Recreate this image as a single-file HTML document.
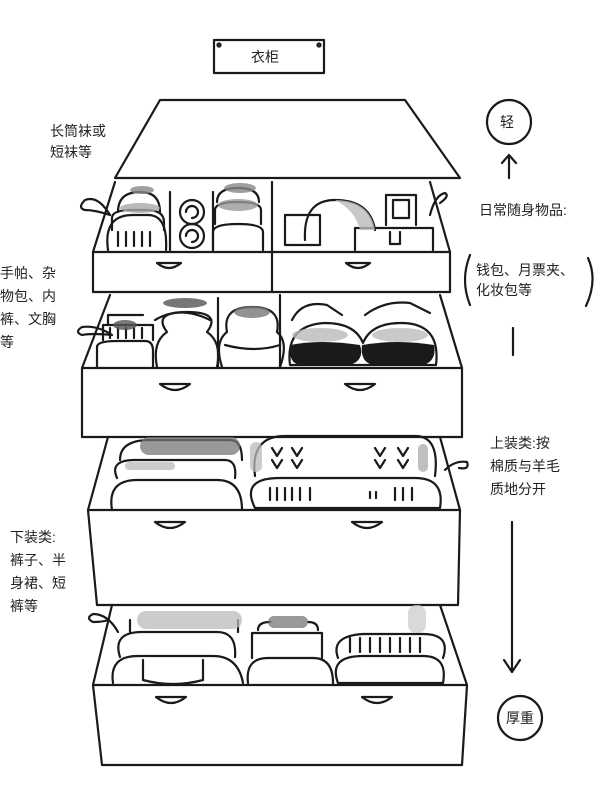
<!DOCTYPE html>
<html><head><meta charset="utf-8"><style>
html,body{margin:0;padding:0;background:#fff;}
svg{display:block;}
text{font-family:"Liberation Sans","Noto Sans CJK SC",sans-serif;fill:#222;font-size:14px;}
</style></head><body>
<svg width="600" height="788" viewBox="0 0 600 788" xmlns="http://www.w3.org/2000/svg">
<g fill="none" stroke="#1a1a1a" stroke-width="2.2" stroke-linejoin="round" stroke-linecap="round">
<!-- title -->
<rect x="214" y="40" width="110" height="33"/>
<circle cx="219" cy="45" r="1.5"/><circle cx="319" cy="45" r="1.5"/>
<!-- lid -->
<path d="M160 100 L405 100 L460 178 L115 178 Z"/>
<!-- drawer1 -->
<path d="M115 182 L93 252 L93 292 L450 292 L450 252 L430 182"/>
<path d="M93 252 L450 252 M272 182 L272 292"/>
<path d="M157 263 q12 10 24 0 Z M346 263 q12 10 24 0 Z"/>
<!-- d1 contents -->
<path d="M108 250 q-5 -35 25 -35 h15 q20 0 18 35"/>
<path d="M112 230 v-12 q0 -8 20 -8 h14 q18 0 18 12 v8"/>
<path d="M118 212 q0 -20 22 -20 q20 0 20 20"/>
<path d="M118 232 v14 M126 232 v14 M134 232 v14 M142 232 v14 M150 232 v14"/>
<path d="M170 250 V192 M213 250 V192"/>
<circle cx="192" cy="212" r="12"/><circle cx="192" cy="236" r="12"/>
<path d="M186 212 a6 6 0 1 1 6 6 M186 236 a6 6 0 1 1 6 6"/>
<path d="M213 250 v-18 q0 -8 25 -8 q25 0 25 8 v18 M215 224 v-14 q0 -8 23 -8 q23 0 23 8 v14 M217 202 q0 -14 21 -14 q21 0 21 14"/>
<path d="M285 245 V215 h35 v30 Z"/>
<path d="M305 240 q-2 -40 30 -40 q35 0 40 30"/>
<path d="M386 225 v-30 h30 v30 M393 200 v18 h16 v-18 Z"/>
<path d="M355 250 v-22 h78 v22 M390 232 v12 h10 v-12"/>
<!-- drawer2 -->
<path d="M110 295 L82 368 L82 437 L462 437 L462 368 L440 295"/>
<path d="M82 368 L462 368 M280 295 L280 368"/>
<path d="M160 384 q15 12 30 0 Z M345 384 q15 12 30 0 Z"/>
<path d="M97 367 v-20 q0 -6 20 -6 h28 q8 0 8 10 v16 M103 340 v-15 h50 v15 M108 325 v-10 h35"/>
<path d="M110 328 v10 M118 328 v10 M126 328 v10 M134 328 v10 M142 328 v10"/>
<path d="M157 367 q-5 -25 10 -35 q-15 -20 20 -20 q35 0 20 20 q15 10 10 35"/>
<path d="M155 320 q25 -15 55 0 M218 367 V298"/>
<path d="M222 367 q-8 -25 5 -35 q-5 -25 25 -25 q30 0 25 25 q12 10 3 35 M225 345 q30 8 55 0"/>
<path d="M290 365 q-5 -40 35 -42 q30 0 38 20 q8 -20 38 -20 q40 0 35 42 Z"/>
<path d="M292 320 q10 -20 35 -15 l15 10 M365 315 q20 -15 45 -12 l20 10"/>
</g>
<g fill="#1a1a1a">
<path d="M290 345 q30 -6 70 0 q5 15 -10 20 h-50 q-12 -2 -10 -20Z"/>
<path d="M362 345 q35 -6 72 0 q3 15 -10 20 h-50 q-14 -2 -12 -20Z"/>
</g>
<g fill="#888" opacity="0.8">
<ellipse cx="142" cy="190" rx="12" ry="4"/><ellipse cx="240" cy="188" rx="16" ry="5"/>
<ellipse cx="140" cy="208" rx="20" ry="5" fill="#aaa"/><ellipse cx="238" cy="205" rx="20" ry="6" fill="#999"/>
<path d="M335 200 q35 0 40 30 h-15 q-5 -20 -25 -30Z" fill="#bbb"/>
<ellipse cx="125" cy="325" rx="12" ry="5" fill="#555"/><ellipse cx="185" cy="303" rx="22" ry="5" fill="#555"/>
<ellipse cx="252" cy="312" rx="18" ry="6" fill="#777"/>
<ellipse cx="320" cy="335" rx="28" ry="7" fill="#bbb"/><ellipse cx="400" cy="335" rx="28" ry="7" fill="#bbb"/>
</g>
<g fill="none" stroke="#1a1a1a" stroke-width="2.2" stroke-linejoin="round" stroke-linecap="round">
<!-- drawer3 -->
<path d="M108 437 L88 510 L97 605 L458 605 L460 510 L440 437"/>
<path d="M88 510 L460 510"/>
<path d="M155 522 q15 12 30 0 Z M352 522 q15 12 30 0 Z"/>
<path d="M112 510 q-5 -30 25 -30 h80 q25 0 25 30 M117 478 q-8 -18 18 -18 h90 q12 0 10 18 M120 460 q0 -20 30 -20 h80 q12 0 12 20"/>
<path d="M255 508 q-15 -30 25 -30 h135 q30 0 25 30 Z M255 476 q-5 -40 30 -40 h130 q25 0 20 40"/>
<path d="M272 448 l5 8 l5 -8 M292 448 l5 8 l5 -8 M375 448 l5 8 l5 -8 M398 448 l5 8 l5 -8 M272 460 l5 8 l5 -8 M292 460 l5 8 l5 -8 M375 460 l5 8 l5 -8 M398 460 l5 8 l5 -8"/>
<path d="M270 488 v12 M277 488 v12 M285 488 v12 M292 488 v12 M300 488 v12 M310 488 v12 M370 492 v6 M376 492 v6 M395 488 v12 M403 488 v12 M412 488 v12"/>
<!-- drawer4 -->
<path d="M112 605 L93 685 L102 765 L462 765 L467 685 L440 605"/>
<path d="M93 685 L467 685"/>
<path d="M156 697 q15 12 30 0 Z M362 697 q15 12 30 0 Z"/>
<path d="M113 683 q-4 -27 25 -27 h75 q25 0 30 27 M120 657 q-8 -25 22 -25 h75 q20 0 18 25 M130 620 v12 M238 620 v12"/>
<path d="M143 660 v20 q30 8 60 0 v-20"/>
<path d="M248 683 q-3 -25 20 -25 h45 q20 0 20 25 M252 658 v-25 h70 v25 M258 630 q0 -8 12 -8 M308 622 q10 0 10 8"/>
<path d="M338 683 q-10 -27 25 -27 h60 q25 0 20 27 Z M338 658 q-8 -22 25 -24 h60 q28 0 20 24"/>
<path d="M350 638 v14 M360 638 v14 M370 638 v14 M380 638 v14 M390 638 v14 M400 638 v14 M410 638 v14 M420 638 v14"/>
<!-- curls -->
<path d="M110 215 q-12 -20 -25 -15 q-8 8 0 10 q10 0 25 5"/>
<path d="M430 215 q5 -20 15 -22 q5 3 -5 10"/>
<path d="M112 335 q-15 -10 -30 -8 q-8 5 0 8 q10 -2 30 0"/>
<path d="M445 470 q10 -10 22 -8 q3 8 -8 6"/>
<path d="M118 632 q-10 -18 -25 -18 q-8 4 0 8 q10 0 15 -2"/>
<!-- right side -->
<circle cx="509" cy="122" r="22"/>
<path d="M509 178 V155 M502 163 L509 155 L516 163"/>
<path d="M470 255 q-10 25 0 50 M588 258 q10 22 -2 48"/>
<path d="M513 328 V355"/>
<path d="M512 522 V672 M504 660 L512 672 L520 660"/>
<circle cx="520" cy="718" r="22"/>
</g>
<g fill="#1a1a1a">
<text x="251" y="62" font-size="14">衣柜</text>
<text x="50" y="136">长筒袜或</text>
<text x="50" y="157">短袜等</text>
<text x="0" y="278">手帕、杂</text>
<text x="0" y="301">物包、内</text>
<text x="0" y="324">裤、文胸</text>
<text x="0" y="347">等</text>
<text x="10" y="542">下装类:</text>
<text x="10" y="565">裤子、半</text>
<text x="10" y="588">身裙、短</text>
<text x="10" y="611">裤等</text>
<text x="500" y="127">轻</text>
<text x="479" y="215">日常随身物品:</text>
<text x="476" y="275">钱包、月票夹、</text>
<text x="476" y="295">化妆包等</text>
<text x="490" y="448">上装类:按</text>
<text x="490" y="471">棉质与羊毛</text>
<text x="490" y="494">质地分开</text>
<text x="506" y="723">厚重</text>
</g>
<g opacity="0.75">
<rect x="140" y="437" width="100" height="18" rx="9" fill="#777"/>
<rect x="125" y="462" width="50" height="8" rx="4" fill="#bbb"/>
<rect x="137" y="611" width="105" height="18" rx="9" fill="#bbb"/>
<rect x="268" y="616" width="40" height="12" rx="6" fill="#777"/>
<rect x="250" y="442" width="12" height="30" rx="6" fill="#bbb"/>
<rect x="418" y="444" width="10" height="28" rx="5" fill="#aaa"/>
<rect x="408" y="605" width="18" height="28" rx="8" fill="#ccc"/>
</g>
</svg>
</body></html>
